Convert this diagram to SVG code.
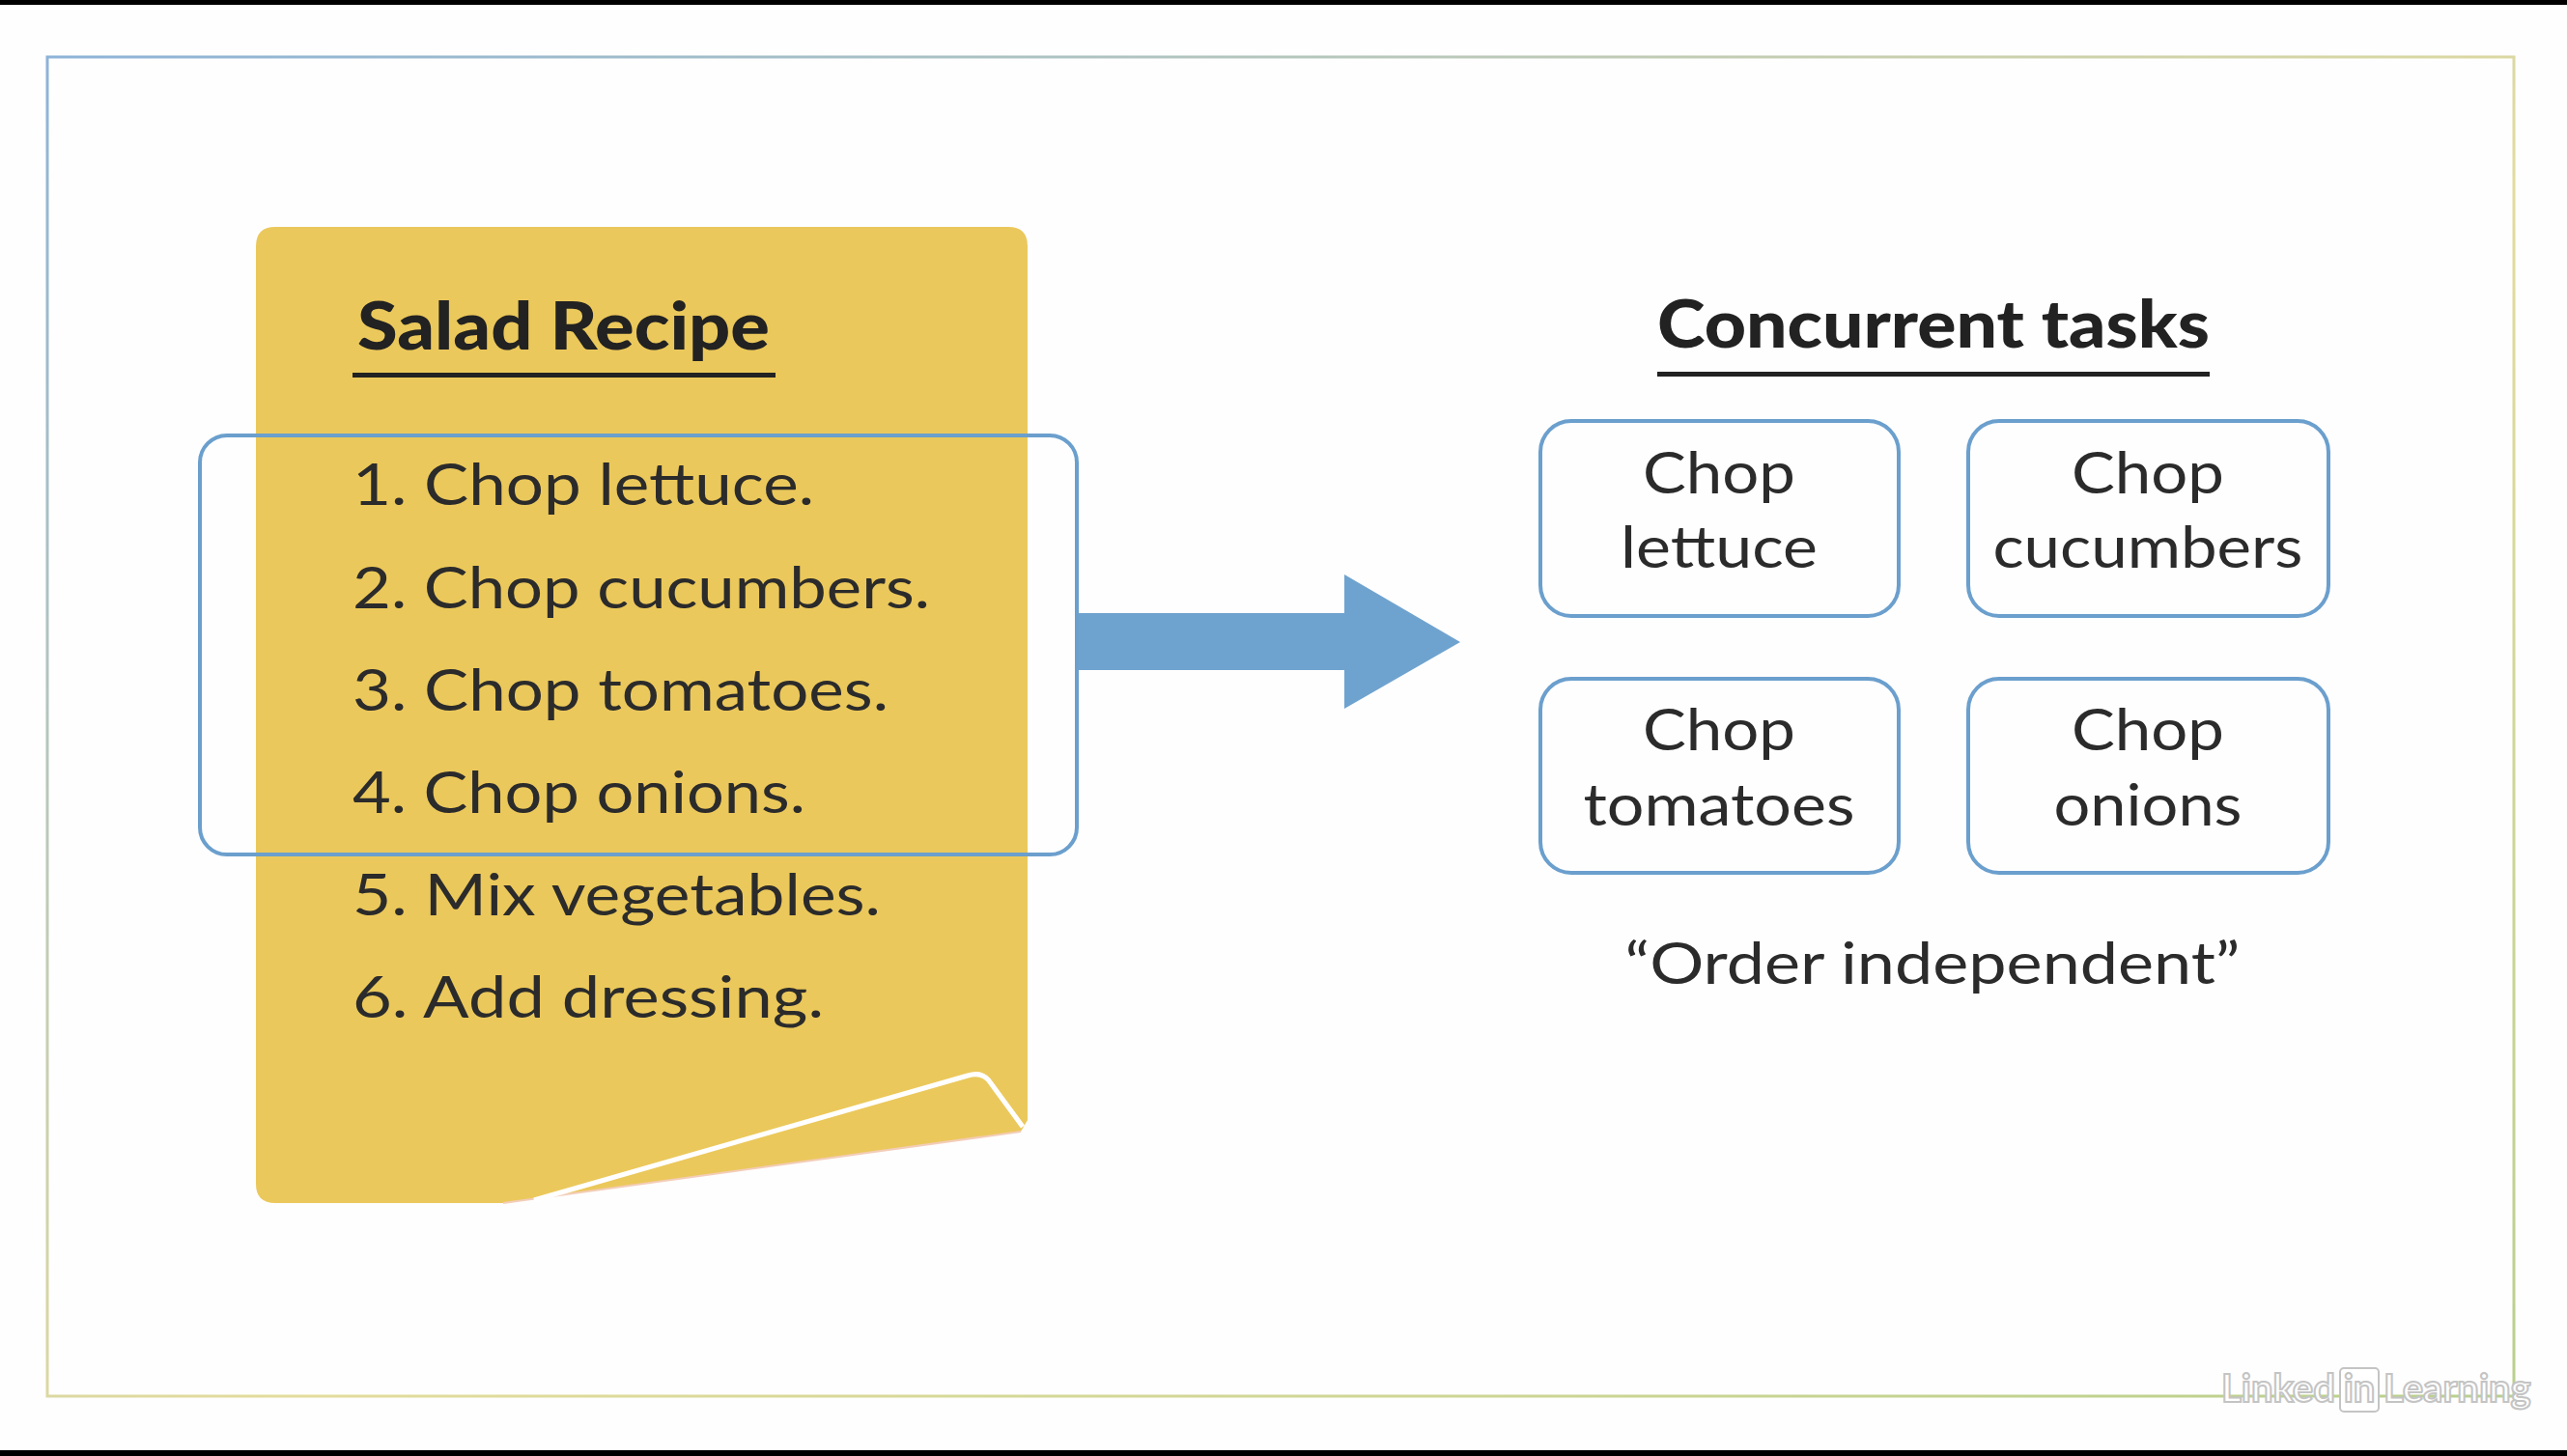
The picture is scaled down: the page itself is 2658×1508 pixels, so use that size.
<svg xmlns="http://www.w3.org/2000/svg" width="2658" height="1508" viewBox="0 0 2658 1508">
<defs>
<linearGradient id="frameGrad" x1="0" y1="0" x2="1" y2="1">
<stop offset="0" stop-color="#8db3d8"/>
<stop offset="0.55" stop-color="#e3dc9c"/>
<stop offset="1" stop-color="#b9d08c"/>
</linearGradient>
<style>
.list{font-family:Lato,"Open Sans",sans-serif;font-size:60px;fill:#2b2b2b}
.title{font-family:Lato,"Open Sans",sans-serif;font-size:68px;font-weight:900;fill:#222}
.box{fill:none;stroke:#6b9fcd;stroke-width:4}
.task{font-family:Lato,"Open Sans",sans-serif;font-size:60px;fill:#2b2b2b;text-anchor:middle}
.wm{font-family:Lato,"Open Sans",sans-serif;font-size:40px;font-weight:bold;fill:#fff;stroke:#c4c4c4;stroke-width:2}
</style>
</defs>
<rect x="0" y="0" width="2658" height="1508" fill="#fefefe"/>
<rect x="0" y="0" width="2658" height="5" fill="#000"/>
<rect x="0" y="1502" width="2658" height="6" fill="#000"/>
<rect x="49" y="59" width="2554" height="1387" fill="none" stroke="url(#frameGrad)" stroke-width="3"/>

<g id="recipe">
<path d="M285 235 H1044 Q1064 235 1064 255 V1160 L1057 1172 L521 1246 H285 Q265 1246 265 1226 V255 Q265 235 285 235 Z" fill="#ebc85b"/>
<path d="M1057 1172 L521 1246" fill="none" stroke="#f3cdb8" stroke-width="2"/>
<path d="M553 1243 L1002 1114 Q1018 1109 1026 1122 L1059 1167" fill="none" stroke="#ffffff" stroke-width="5" stroke-linejoin="round"/>
<text class="title" x="370" y="362" textLength="427" lengthAdjust="spacingAndGlyphs">Salad Recipe</text>
<rect x="365" y="386" width="438" height="5" fill="#222"/>
<text class="list" x="365" y="523" textLength="478" lengthAdjust="spacingAndGlyphs">1. Chop lettuce.</text>
<text class="list" x="365" y="630" textLength="598" lengthAdjust="spacingAndGlyphs">2. Chop cucumbers.</text>
<text class="list" x="365" y="736" textLength="555" lengthAdjust="spacingAndGlyphs">3. Chop tomatoes.</text>
<text class="list" x="365" y="842" textLength="469" lengthAdjust="spacingAndGlyphs">4. Chop onions.</text>
<text class="list" x="365" y="948" textLength="547" lengthAdjust="spacingAndGlyphs">5. Mix vegetables.</text>
<text class="list" x="365" y="1054" textLength="488" lengthAdjust="spacingAndGlyphs">6. Add dressing.</text>
</g>

<g id="selection">
<rect class="box" x="207" y="451" width="908" height="434" rx="28"/>
</g>

<g id="connectors">
<polygon points="1117,635 1392,635 1392,595 1512,665 1392,734 1392,694 1117,694" fill="#6fa3cf"/>
</g>

<g id="concurrent-title">
<text class="title" x="2002" y="360" text-anchor="middle" textLength="572" lengthAdjust="spacingAndGlyphs">Concurrent tasks</text>
<rect x="1716" y="385" width="572" height="5" fill="#222"/>
</g>

<g id="task-lettuce">
<rect class="box" x="1595" y="436" width="371" height="202" rx="32"/>
<text class="task" x="1780" y="511" textLength="158" lengthAdjust="spacingAndGlyphs">Chop</text>
<text class="task" x="1780" y="588" textLength="204" lengthAdjust="spacingAndGlyphs">lettuce</text>
</g>
<g id="task-cucumbers">
<rect class="box" x="2038" y="436" width="373" height="202" rx="32"/>
<text class="task" x="2224" y="511" textLength="158" lengthAdjust="spacingAndGlyphs">Chop</text>
<text class="task" x="2224" y="588" textLength="321" lengthAdjust="spacingAndGlyphs">cucumbers</text>
</g>
<g id="task-tomatoes">
<rect class="box" x="1595" y="703" width="371" height="201" rx="32"/>
<text class="task" x="1780" y="777" textLength="158" lengthAdjust="spacingAndGlyphs">Chop</text>
<text class="task" x="1780" y="855" textLength="281" lengthAdjust="spacingAndGlyphs">tomatoes</text>
</g>
<g id="task-onions">
<rect class="box" x="2038" y="703" width="373" height="201" rx="32"/>
<text class="task" x="2224" y="777" textLength="158" lengthAdjust="spacingAndGlyphs">Chop</text>
<text class="task" x="2224" y="855" textLength="195" lengthAdjust="spacingAndGlyphs">onions</text>
</g>

<g id="note">
<text class="task" x="2001" y="1019" textLength="637" lengthAdjust="spacingAndGlyphs">“Order independent”</text>
</g>

<g id="watermark">
<text class="wm" x="2300" y="1452">Linked</text>
<rect x="2423" y="1417" width="40" height="45" rx="4" fill="#fff" stroke="#c4c4c4" stroke-width="2"/>
<text class="wm" x="2443" y="1452" text-anchor="middle">in</text>
<text class="wm" x="2468" y="1452">Learning</text>
</g>
</svg>
